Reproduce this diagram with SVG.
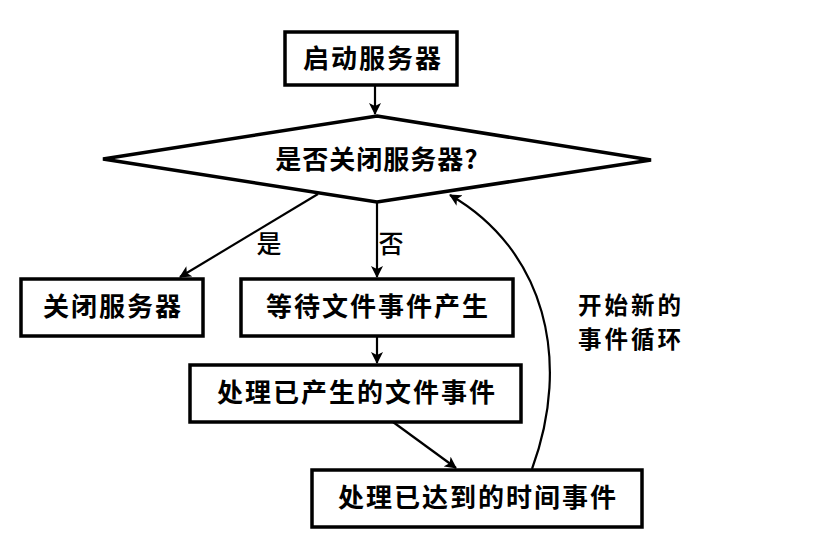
<svg xmlns="http://www.w3.org/2000/svg" width="822" height="556" viewBox="0 0 822 556">
<defs>
<marker id="arr" viewBox="0 0 12 12" refX="11" refY="6" markerWidth="12" markerHeight="12" markerUnits="userSpaceOnUse" orient="auto">
<path d="M0,0 L12,6 L0,12 L3,6 Z" fill="#000"/>
</marker>
<style>
.box{fill:#fff;stroke:#000;stroke-width:3.5}
.t{font-family:"Noto Sans CJK SC","Noto Sans",sans-serif;font-size:26px;font-weight:bold;fill:#000;text-anchor:middle}
.l{font-family:"Noto Sans CJK SC","Noto Sans",sans-serif;font-size:25px;font-weight:500;fill:#000;text-anchor:middle}
.n{font-family:"Noto Sans CJK SC","Noto Sans",sans-serif;font-size:23.5px;font-weight:bold;fill:#000;text-anchor:middle}
.c{fill:none;stroke:#000;stroke-width:2.2;marker-end:url(#arr)}
</style>
</defs>
<rect width="822" height="556" fill="#fff"/>
<g id="start">
<rect class="box" x="285" y="32" width="172" height="53"/>
<text class="t" x="373" y="68" letter-spacing="2">启动服务器</text>
</g>
<g id="decision">
<polygon points="377,116 651,160 377,202 103,159" fill="#fff" stroke="#000" stroke-width="3.5" stroke-linejoin="miter"/>
<text class="t" x="377" y="169" letter-spacing="1">是否关闭服务器?</text>
</g>
<g id="close">
<rect class="box" x="21" y="279" width="182" height="57"/>
<text class="t" x="113" y="316" letter-spacing="2">关闭服务器</text>
</g>
<g id="wait">
<rect class="box" x="241" y="279" width="272" height="57"/>
<text class="t" x="378" y="316" letter-spacing="2">等待文件事件产生</text>
</g>
<g id="file">
<rect class="box" x="190" y="365" width="331" height="57"/>
<text class="t" x="357" y="402" letter-spacing="2">处理已产生的文件事件</text>
</g>
<g id="time">
<rect class="box" x="312" y="470" width="330" height="57"/>
<text class="t" x="478" y="507" letter-spacing="2">处理已达到的时间事件</text>
</g>
<g id="connectors">
<line class="c" x1="375" y1="86" x2="375" y2="114"/>
<line class="c" x1="318" y1="194" x2="180" y2="277"/>
<line class="c" x1="377" y1="202" x2="377" y2="277"/>
<line class="c" x1="377" y1="336" x2="377" y2="363"/>
<line class="c" x1="393" y1="422" x2="456" y2="468"/>
<path class="c" d="M532,469 C572,360 545,250 450,195"/>
<text class="l" x="269" y="253">是</text>
<text class="l" x="391" y="253">否</text>
<text class="n" x="631" y="314" letter-spacing="3">开始新的</text>
<text class="n" x="631" y="348" letter-spacing="3">事件循环</text>
</g>
</svg>
